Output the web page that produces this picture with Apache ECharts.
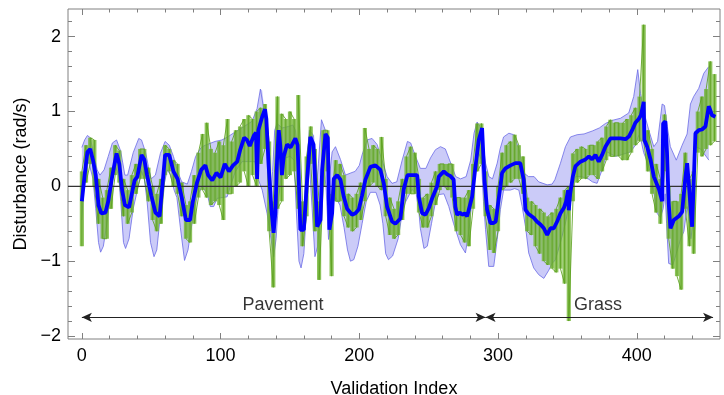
<!DOCTYPE html>
<html><head><meta charset="utf-8">
<script src="https://cdn.jsdelivr.net/npm/echarts@6/dist/echarts.min.js"></script>
<style>html,body{margin:0;padding:0;background:#fff}#c{width:724px;height:395px}</style>
</head><body><div id="c"></div>
<script>
// ---------- data ----------
const xMajor = [0, 100, 200, 300, 400];
const xMinor = [20,40,60,80,120,140,160,180,220,240,260,280,320,340,360,380,420,440];
const yMajor = [-2, -1, 0, 1, 2];
const yMinor = [-1.8,-1.6,-1.4,-1.2,-0.8,-0.6,-0.4,-0.2,0.2,0.4,0.6,0.8,1.2,1.4,1.6,1.8,2.2];

const meanLine = [[0,-0.2],[2,0.15],[4,0.46],[6,0.5],[8,0.35],[10,0.15],[12,-0.25],[14,-0.36],[17,-0.35],[19,-0.2],[22,0.15],[25,0.44],[27,0.3],[29,-0.05],[31,-0.25],[34,-0.28],[36,-0.1],[38,0.08],[40,0.13],[43,0.42],[45,0.36],[47,0.15],[50,-0.12],[53,-0.35],[56,-0.4],[58,0.0],[60,0.42],[63,0.42],[66,0.2],[69,0.1],[72,-0.15],[75,-0.45],[78,-0.45],[80,-0.2],[83,0.05],[86,0.22],[89,0.28],[91,0.15],[94,0.08],[97,0.18],[100,0.12],[103,0.3],[106,0.2],[109,0.28],[112,0.33],[114,0.48],[117,0.65],[119,0.62],[121,0.54],[124,0.68],[125.5,0.72],[126.3,0.1],[127.2,0.75],[130,0.93],[132,1.03],[133,0.9],[134.7,0.26],[136.6,-0.3],[138.2,-0.62],[139.5,-0.35],[140.7,0.35],[141.9,0.75],[143,0.55],[144.2,0.15],[145.5,0.4],[147.9,0.56],[150.5,0.52],[153.9,0.64],[155.5,0.55],[156.3,0.13],[157.5,-0.58],[160,-0.58],[162.4,0.1],[164.7,0.66],[167,0.56],[169.6,-0.54],[172,-0.45],[173.2,0.22],[175.6,0.7],[177.3,0.65],[178.4,-0.58],[180.4,-0.36],[181.6,0.1],[184,0.15],[186.4,0.09],[188.8,-0.14],[191.2,-0.3],[194.8,-0.38],[197.2,-0.36],[199.6,-0.31],[202,-0.12],[204.4,0.09],[208,0.26],[211.6,0.28],[215.2,0.22],[217.6,0.04],[220,-0.27],[223.6,-0.47],[226,-0.5],[229.6,-0.43],[232,-0.04],[234.7,0.15],[238,0.15],[241.7,0.15],[242.9,-0.14],[245.3,-0.36],[247.7,-0.38],[250.1,-0.29],[252.5,-0.16],[256.1,0.0],[257.3,0.13],[260.9,0.2],[263.3,0.16],[265.5,0.14],[268,0.09],[269.2,-0.27],[270.5,-0.38],[272.5,-0.35],[274.1,-0.38],[276,-0.36],[277.7,-0.4],[281.3,-0.14],[283.7,0.26],[286.1,0.62],[288.5,0.78],[290.2,0.09],[292.1,-0.31],[294.5,-0.49],[296.5,-0.49],[298.3,-0.47],[301.7,0.0],[302.9,0.18],[305.3,0.24],[309,0.28],[312.5,0.31],[316,0.31],[318.5,0.09],[319.7,-0.31],[322,-0.37],[325.7,-0.42],[328,-0.47],[330.6,-0.51],[333,-0.56],[335.4,-0.65],[337.8,-0.56],[340.2,-0.56],[342.6,-0.47],[345,-0.36],[347.4,-0.29],[349.1,-0.2],[350.5,-0.05],[351,-0.32],[352,-0.1],[353.9,0.13],[355.8,0.27],[359.4,0.33],[363,0.36],[365.5,0.4],[367.8,0.36],[370.2,0.42],[372.6,0.33],[375,0.42],[377.4,0.53],[381,0.64],[384.6,0.64],[388.3,0.64],[391.9,0.63],[394.5,0.67],[396.7,0.75],[399,0.85],[401.4,0.9],[403,0.95],[405,1.13],[405.5,0.62],[407.5,0.53],[409.9,0.36],[412.3,0.13],[416,-0.04],[418.3,-0.2],[419,0.84],[420.6,0.87],[421.8,0.45],[423,-0.22],[424.3,-0.56],[426.7,-0.45],[430.3,-0.4],[432.7,-0.34],[435.1,0.13],[436.3,0.31],[437.5,0.05],[438.7,-0.27],[439.9,-0.54],[441,-0.54],[442.3,0.71],[444.7,0.75],[447,0.76],[449.5,0.8],[451.9,1.07],[454.3,0.95],[456.7,0.93]];

const bandUpper = [[0,0.52],[2,0.62],[4,0.68],[6,0.65],[8,0.48],[11,0.22],[13,0.15],[16,0.22],[19,0.4],[22,0.58],[25,0.62],[28,0.47],[31,0.15],[33,0.15],[37,0.45],[41,0.64],[43,0.62],[46,0.45],[48,0.26],[50,0.1],[53,0.15],[56.6,0.44],[60,0.6],[63,0.55],[66,0.4],[69,0.2],[72,0.06],[76,0.03],[79,0.2],[82,0.4],[86,0.52],[89,0.55],[96,0.6],[101,0.62],[105,0.66],[110,0.72],[117,0.8],[122.7,0.87],[126.3,1.04],[128.7,1.3],[130,1.28],[132.3,0.9],[134.2,0.1],[136,-0.16],[137.5,0.2],[139,0.75],[140.7,0.84],[144.3,0.78],[149,0.8],[152,0.82],[154,0.75],[156.3,0.31],[157.5,-0.4],[160,-0.35],[162,0.3],[164,0.75],[167,0.68],[169,-0.04],[170.5,0.3],[172.7,0.89],[175.5,0.75],[178.3,0.09],[180.4,0.46],[182.8,0.53],[186.4,0.36],[190,0.15],[194,0.18],[197,0.2],[200,0.28],[202,0.42],[205.6,0.62],[209.2,0.64],[212.8,0.56],[216.4,0.35],[220,0.13],[223.6,0.04],[227,0.06],[230.9,0.35],[234.7,0.6],[237,0.58],[240.5,0.4],[244,0.24],[248,0.24],[251.3,0.38],[254.9,0.49],[258.5,0.53],[262,0.5],[265.9,0.31],[269.5,0.13],[273,0.1],[277,0.13],[280.3,0.35],[282.7,0.71],[284.9,0.86],[287,0.8],[289,0.6],[291,0.31],[293.4,0.13],[296,0.1],[299.4,0.31],[301.5,0.5],[304,0.66],[307.8,0.71],[311.3,0.69],[314.9,0.51],[318.5,0.18],[322,0.13],[326,0.13],[329.3,0.06],[335.4,0.02],[339,0.03],[341,0.09],[345,0.31],[348.6,0.53],[352.2,0.66],[357,0.69],[362,0.7],[368,0.74],[373,0.78],[377.4,0.84],[382,0.88],[388.3,0.91],[394.2,0.98],[397.8,1.2],[400.7,1.56],[402.7,1.24],[405,1.0],[408.7,0.75],[412.3,0.53],[415,0.6],[418.3,1.1],[420,1.08],[422,0.8],[424.2,0.53],[428.5,0.35],[432.7,0.55],[436.3,0.7],[438.7,1.1],[441,1.2],[444.7,1.31],[448.3,1.51],[451.9,1.6]];

const bandLower = [[0,-0.45],[1.5,0.1],[3,0.3],[5,0.32],[8,0.1],[10,-0.3],[12,-0.75],[13.5,-0.88],[15.5,-0.8],[18,-0.5],[20,-0.2],[22,0.1],[24.5,0.25],[26.5,0.15],[28,-0.2],[30,-0.75],[31.5,-0.83],[34,-0.7],[37,-0.3],[40,-0.05],[43,0.2],[45,0.1],[47,-0.2],[49.5,-0.75],[52,-0.94],[54,-0.85],[56.5,-0.4],[59,0.0],[61.5,0.22],[64,0.15],[66.5,-0.05],[68.5,-0.15],[71,-0.55],[74,-0.99],[76.5,-0.85],[78.5,-0.6],[80.6,-0.36],[83,-0.14],[86.7,0.0],[90.3,-0.1],[92.6,-0.27],[95,-0.27],[97.5,-0.16],[104.7,-0.14],[107,0.0],[110.7,0.2],[115.5,0.33],[124.7,0.33],[127,0.1],[130,-0.05],[133.5,-0.36],[136,-0.66],[138.3,-0.94],[140,-0.7],[142,-0.14],[144,0.2],[146.7,0.38],[150,0.4],[153,0.35],[154.5,-0.3],[156.5,-1.0],[158,-1.09],[160,-0.9],[162,-0.3],[164,0.3],[166,-0.3],[168,-0.94],[170,-0.8],[172,-0.3],[174,0.3],[176,0.0],[177.8,-0.71],[179.5,-0.5],[181,-0.2],[183,-0.15],[186,-0.25],[189,-0.55],[191.5,-0.85],[193.6,-1.0],[196,-0.98],[199,-0.8],[202,-0.5],[205,-0.2],[208,-0.08],[212,-0.08],[215,-0.25],[217,-0.5],[219,-0.9],[221,-0.98],[224,-0.93],[228,-0.7],[231,-0.35],[233,-0.22],[238,-0.04],[241,-0.1],[243,-0.35],[244,-0.56],[246.6,-0.83],[249,-0.8],[252,-0.5],[255,-0.2],[257.3,-0.11],[261,-0.1],[264.5,-0.27],[268,-0.5],[272.9,-0.78],[276.5,-0.89],[279,-0.6],[281.3,-0.18],[283.7,0.22],[286,0.45],[288,0.35],[289.5,-0.2],[291,-0.58],[293.3,-1.07],[296.9,-1.07],[299.4,-0.71],[301.7,-0.31],[304,-0.05],[308.8,-0.05],[312,-0.03],[315,-0.05],[317.4,-0.27],[319.8,-0.54],[322.1,-0.89],[325.7,-1.09],[329.3,-1.18],[333,-1.23],[336.6,-1.12],[339,-1.03],[341.4,-0.98],[345,-0.75],[348.6,-0.49],[350,-0.36],[352.2,-0.12],[355.8,0.13],[360,0.13],[365,0.1],[368,0.06],[371.4,0.04],[375,0.22],[378.6,0.46],[384.6,0.4],[388.3,0.42],[395.5,0.46],[399,0.55],[401.4,0.68],[403,0.62],[405,0.45],[407.5,0.33],[409.9,0.18],[412.3,-0.09],[414.7,-0.36],[417,-0.42],[419,-0.3],[420.5,-0.1],[421.5,-0.5],[423,-1.03],[426,-1.05],[428.5,-0.9],[431.5,-0.71],[434,-0.6],[436.3,-0.27],[437.5,-0.4],[439,-0.7],[440.5,-0.5],[441.5,0.2],[442.3,0.53],[446,0.5],[448,0.45],[452,0.35]];

const greenX = [0,3,6,9,12,15,18,21,24,27,30,33,36,39,42,45,48,51,54,57,60,63,66,69,72,75,78,81,84,87,90,93,96,99,102,105,108,111,114,117,120,123,126,129,132,135,138,141,144,147,150,153,156,159,162,165,168,171,174,177,180,183,186,189,192,195,198,201,204,207,210,213,216,219,222,225,228,231,234,237,240,243,246,249,252,255,258,261,264,267,270,273,276,279,282,285,288,291,294,297,300,303,306,309,312,315,318,321,324,327,330,333,336,339,342,345,348,351,354,357,360,363,366,369,372,375,378,381,384,387,390,393,396,399,402,405,408,411,414,417,420,423,426,429,432,435,438,441,444,447,450,453,456];
const greenLo = [-0.8,0.05,0.3,0.0,-0.5,-0.7,-0.7,-0.3,0.15,0.05,-0.4,-0.5,-0.35,-0.1,0.1,0.1,-0.2,-0.45,-0.6,-0.5,0.15,0.2,0.0,-0.1,-0.4,-0.7,-0.75,-0.5,-0.15,-0.05,-0.15,-0.25,-0.2,-0.25,-0.45,-0.1,-0.1,0.0,0.05,0.2,0.0,0.15,0.0,0.3,0.5,-0.6,-1.35,-0.3,-0.2,0.1,0.15,0.2,-0.3,-0.8,-0.4,0.3,-0.6,-1.25,0.0,0.2,-1.2,-0.2,-0.2,-0.4,-0.55,-0.6,-0.55,-0.45,-0.2,0.0,0.05,0.0,-0.05,-0.4,-0.65,-0.7,-0.65,-0.45,-0.1,-0.1,-0.1,-0.35,-0.55,-0.55,-0.4,-0.25,-0.05,0.0,-0.05,-0.15,-0.6,-0.65,-0.75,-0.8,-0.3,0.2,0.3,-0.4,-0.85,-0.89,-0.6,-0.05,0.0,0.05,0.1,0.1,-0.1,-0.6,-0.65,-0.8,-0.9,-1.0,-1.05,-1.1,-1.15,-1.1,-1.3,-1.8,-0.2,0.05,0.1,0.1,0.15,0.15,0.1,0.2,0.35,0.4,0.4,0.4,0.35,0.35,0.45,0.55,0.6,0.6,0.2,-0.1,-0.35,-0.5,0.2,-0.7,-1.1,-1.2,-1.38,-0.3,-0.8,-0.9,0.45,0.4,0.5,0.55,0.6];
const greenHi = [0.2,0.55,0.65,0.62,0.1,-0.15,-0.05,0.25,0.55,0.48,0.1,-0.05,0.15,0.3,0.5,0.5,0.25,0.0,-0.1,0.1,0.55,0.5,0.35,0.3,0.05,-0.25,-0.2,0.15,0.45,0.7,0.85,0.5,0.45,0.6,0.55,0.9,0.6,0.75,0.8,0.9,0.95,0.9,1.0,1.05,1.1,0.6,-0.2,1.2,0.97,0.9,1.0,0.9,1.22,-0.2,0.4,0.8,0.5,-0.2,0.75,0.75,-0.1,0.35,0.3,0.15,-0.1,-0.15,-0.1,0.05,0.78,0.5,0.55,0.5,0.66,0.1,-0.15,-0.3,-0.2,0.1,0.4,0.53,0.45,0.1,-0.15,-0.1,0.05,0.2,0.3,0.3,0.3,0.3,-0.15,-0.15,-0.15,-0.05,0.3,0.84,0.84,0.2,-0.25,-0.3,0.0,0.45,0.55,0.6,0.69,0.55,0.4,-0.15,-0.2,-0.25,-0.3,-0.35,-0.4,-0.35,-0.3,-0.15,-0.05,0.0,0.44,0.5,0.53,0.5,0.55,0.55,0.6,0.65,0.8,0.89,0.85,0.85,0.85,0.9,0.95,1.05,1.2,2.16,0.75,0.5,0.3,0.1,0.96,0.0,-0.2,-0.2,-0.1,0.45,0.1,0.2,1.0,1.2,1.3,1.67,1.5];

const regions = [
  {name: 'Pavement', from: 0, to: 291, labelX: 145},
  {name: 'Grass', from: 291, to: 455, labelX: 372}
];
const regionY = -1.75;

// ---------- chart ----------
const XMIN = -10, XMAX = 460, YMIN = -2.04, YMAX = 2.37;
const FONT = 'Liberation Sans, Arial, Helvetica, sans-serif';
const TICK = '#808080';
const minus = v => String(v).replace('-', '\u2212');
const HALF = 1.5; // half of the sample spacing of the green trace (data units)

// zig-zag through the green readings (vertical strokes between low and high)
const greenPath = [];
greenX.forEach((x, i) => {
  if (i % 2 === 0) { greenPath.push([x, greenLo[i]]); greenPath.push([x, greenHi[i]]); }
  else { greenPath.push([x, greenHi[i]]); greenPath.push([x, greenLo[i]]); }
});

function xAx(pos, vals, len, labels) {
  return {
    type: 'value', position: pos, min: XMIN, max: XMAX,
    axisLine: {show: false, onZero: false},
    axisTick: {show: true, inside: true, length: len, customValues: vals, lineStyle: {color: TICK, width: 1}},
    axisLabel: labels ? {show: true, customValues: vals, formatter: minus, fontSize: 18, color: '#000', fontFamily: FONT, margin: 8} : {show: false},
    splitLine: {show: false}, minorTick: {show: false},
    name: labels ? 'Validation Index' : '', nameLocation: 'middle', nameGap: 41,
    nameTextStyle: {fontSize: 18, color: '#000', fontFamily: FONT}
  };
}
function yAx(pos, vals, len, labels) {
  return {
    type: 'value', position: pos, min: YMIN, max: YMAX,
    axisLine: {show: false, onZero: false},
    axisTick: {show: true, inside: true, length: len, customValues: vals, lineStyle: {color: TICK, width: 1}},
    axisLabel: labels ? {show: true, customValues: vals, formatter: minus, fontSize: 18, color: '#000', fontFamily: FONT, margin: 7} : {show: false},
    splitLine: {show: false}, minorTick: {show: false},
    name: labels ? 'Disturbance (rad/s)' : '', nameLocation: 'middle', nameGap: 38, nameRotate: 90,
    nameTextStyle: {fontSize: 18, color: '#000', fontFamily: FONT}
  };
}

const chart = echarts.init(document.getElementById('c'), null, {renderer: 'canvas'});
chart.setOption({
  animation: false,
  backgroundColor: '#fff',
  grid: {left: 68, right: 4, top: 9, bottom: 56, show: true, borderColor: '#808080', borderWidth: 1, containLabel: false, outerBoundsMode: 'none'},
  xAxis: [xAx('bottom', xMajor, 6, true), xAx('bottom', xMinor, 3.5, false), xAx('top', xMajor, 6, false), xAx('top', xMinor, 3.5, false)],
  yAxis: [yAx('left', yMajor, 7, true), yAx('left', yMinor, 4, false), yAx('right', yMajor, 7, false), yAx('right', yMinor, 4, false)],
  series: [
    {
      type: 'custom', xAxisIndex: 0, yAxisIndex: 0, silent: true, z: 1, clip: true,
      data: [[0, 0]],
      renderItem: (params, api) => {
        const pts = bandUpper.map(p => api.coord(p)).concat(bandLower.slice().reverse().map(p => api.coord(p)));
        return {type: 'polygon', shape: {points: pts}, style: {fill: '#cbcbf8', stroke: null}};
      }
    },
    {type: 'line', data: bandUpper, showSymbol: false, silent: true, z: 2, lineStyle: {color: '#6b6be6', width: 0.8}},
    {type: 'line', data: bandLower, showSymbol: false, silent: true, z: 2, lineStyle: {color: '#6b6be6', width: 0.8}},
    {
      // green readings as columns between the low and high extent at each sample
      type: 'custom', xAxisIndex: 0, yAxisIndex: 0, silent: true, z: 3, clip: true,
      data: greenX.map((x, i) => [x, greenLo[i], greenHi[i]]),
      renderItem: (params, api) => {
        const x = api.value(0), lo = api.value(1), hi = api.value(2);
        const a = api.coord([x - HALF, hi]), b = api.coord([x + HALF, lo]);
        return {type: 'rect', shape: {x: a[0], y: a[1], width: b[0] - a[0], height: b[1] - a[1]},
                style: {fill: 'rgba(112,180,50,0.8)'}};
      }
    },
    {type: 'line', data: greenPath, showSymbol: false, silent: true, z: 3, lineStyle: {color: 'rgba(92,160,30,0.85)', width: 1}},
    {type: 'line', data: [[XMIN, 0], [XMAX, 0]], showSymbol: false, silent: true, z: 4, lineStyle: {color: '#333', width: 1.2}},
    {type: 'line', data: meanLine, showSymbol: false, silent: true, z: 5, lineStyle: {color: '#0000ff', width: 3.8}},
    {
      type: 'scatter', symbolSize: 0, silent: true, z: 6,
      data: regions.map(r => ({value: [r.labelX, regionY], name: r.name})),
      label: {show: true, position: 'top', distance: 3, formatter: p => p.name, fontSize: 18, color: '#000', fontFamily: FONT},
      markLine: {
        silent: true, symbol: ['arrow', 'arrow'], symbolSize: [7, 10],
        label: {show: false},
        lineStyle: {color: '#222', width: 1, type: 'solid'},
        data: regions.map(r => [{coord: [r.from, regionY]}, {coord: [r.to, regionY]}])
      }
    }
  ]
});
</script></body></html>
